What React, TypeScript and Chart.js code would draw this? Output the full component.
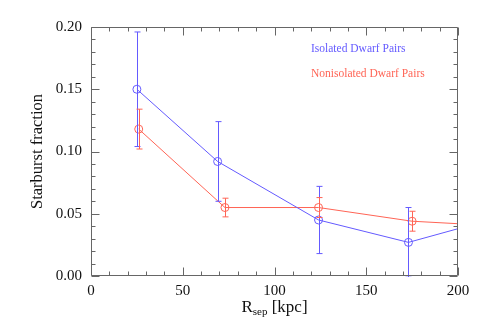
import React, { useEffect, useRef } from "react";
import { Chart, registerables } from "chart.js";

Chart.register(...registerables);

const isoX = [25, 69, 124, 173, 200];
const isoY = [0.15, 0.092, 0.045, 0.027, 0.038];
const isoErr = [0.046, 0.032, 0.027, 0.028, null];
const nonX = [26, 73, 124, 175, 200];
const nonY = [0.118, 0.055, 0.055, 0.044, 0.042];
const nonErr = [0.016, 0.0075, 0.008, 0.008, null];
const xTicks = [0, 50, 100, 150, 200];
const yTicks = [0, 0.05, 0.1, 0.15, 0.2];
const legendLabels = ["Isolated Dwarf Pairs", "Nonisolated Dwarf Pairs"];
const yTitle = "Starburst fraction";

const BLUE = "rgb(100,90,255)";
const RED = "rgb(255,100,85)";
const AXIS = "#666";
const SERIF = '"Liberation Serif", "DejaVu Serif", serif';

const decor = {
  id: "decor",
  afterDatasetsDraw(chart: any) {
    const { ctx, chartArea: a, scales } = chart;
    const xs = scales.x;
    const ys = scales.y;
    ctx.save();
    ctx.beginPath();
    ctx.rect(a.left, a.top - 1, a.right - a.left, a.bottom - a.top + 2);
    ctx.clip();
    const bars = [
      { xv: isoX, yv: isoY, ev: isoErr, c: BLUE },
      { xv: nonX, yv: nonY, ev: nonErr, c: RED },
    ];
    ctx.lineWidth = 1;
    for (const b of bars) {
      ctx.strokeStyle = b.c;
      b.xv.forEach((xv, i) => {
        const e = b.ev[i];
        if (e == null) return;
        const px = Math.round(xs.getPixelForValue(xv)) + 0.5;
        const top = ys.getPixelForValue(b.yv[i] + e);
        const bot = ys.getPixelForValue(b.yv[i] - e);
        ctx.beginPath();
        ctx.moveTo(px, top);
        ctx.lineTo(px, bot);
        ctx.moveTo(px - 3, top);
        ctx.lineTo(px + 3, top);
        ctx.moveTo(px - 3, bot);
        ctx.lineTo(px + 3, bot);
        ctx.stroke();
      });
    }
    ctx.restore();

    ctx.save();
    ctx.strokeStyle = AXIS;
    ctx.lineWidth = 1;
    const L = Math.round(a.left) + 0.5;
    const R = Math.round(a.right) - 0.5;
    const T = Math.round(a.top) + 0.5;
    const B = Math.round(a.bottom) - 0.5;
    ctx.beginPath();
    ctx.rect(L, T, R - L, B - T);
    ctx.stroke();
    ctx.beginPath();
    for (let v = 0; v <= 200; v += 10) {
      const px = Math.round(xs.getPixelForValue(v)) + 0.5;
      const len = v % 50 === 0 ? 8 : 4;
      ctx.moveTo(px, B);
      ctx.lineTo(px, B - len);
      ctx.moveTo(px, T);
      ctx.lineTo(px, T + len);
    }
    for (let k = 0; k <= 20; k++) {
      const v = k * 0.01;
      const py = Math.round(ys.getPixelForValue(v)) + 0.5;
      const len = k % 5 === 0 ? 8 : 4;
      ctx.moveTo(L, py);
      ctx.lineTo(L + len, py);
      ctx.moveTo(R, py);
      ctx.lineTo(R - len, py);
    }
    ctx.stroke();
    ctx.restore();

    ctx.save();
    ctx.font = `11.5px ${SERIF}`;
    ctx.textBaseline = "middle";
    ctx.textAlign = "left";
    ctx.fillStyle = BLUE;
    ctx.fillText(legendLabels[0], a.left + 220, a.top + 22);
    ctx.fillStyle = RED;
    ctx.fillText(legendLabels[1], a.left + 220, a.top + 47);
    ctx.restore();

    ctx.save();
    ctx.fillStyle = "#111";
    ctx.textBaseline = "alphabetic";
    const cx = (a.left + a.right) / 2;
    const baseY = a.bottom + 36;
    const f1 = `17px ${SERIF}`;
    const f2 = `11px ${SERIF}`;
    ctx.font = f1;
    const wR = ctx.measureText("R").width;
    const wRest = ctx.measureText(" [kpc]").width;
    ctx.font = f2;
    const wSub = ctx.measureText("sep").width;
    const total = wR + wSub + wRest;
    const x0 = cx - total / 2;
    ctx.font = f1;
    ctx.textAlign = "left";
    ctx.fillText("R", x0, baseY);
    ctx.font = f2;
    ctx.fillText("sep", x0 + wR, baseY + 3);
    ctx.font = f1;
    ctx.fillText(" [kpc]", x0 + wR + wSub, baseY);

    ctx.translate(a.left - 53, (a.top + a.bottom) / 2);
    ctx.rotate(-Math.PI / 2);
    ctx.textAlign = "center";
    ctx.textBaseline = "middle";
    ctx.font = `16.5px ${SERIF}`;
    ctx.fillText(yTitle, 0, 0);
    ctx.restore();
  },
};

export default function App() {
  const ref = useRef<HTMLCanvasElement | null>(null);
  useEffect(() => {
    let chart: any = null;
    let cancelled = false;
    const build = () => {
      if (cancelled || !ref.current) return;
      chart = new Chart(ref.current, {
        type: "line",
        data: {
          datasets: [
            {
              label: legendLabels[0],
              data: isoX.map((x, i) => ({ x, y: isoY[i] })),
              borderColor: BLUE,
              borderWidth: 1,
              pointStyle: "circle",
              pointRadius: isoX.map((_, i) => (isoErr[i] == null ? 0 : 4)),
              pointBorderColor: BLUE,
              pointBackgroundColor: "rgba(0,0,0,0)",
              pointBorderWidth: 1,
              fill: false,
              tension: 0,
            },
            {
              label: legendLabels[1],
              data: nonX.map((x, i) => ({ x, y: nonY[i] })),
              borderColor: RED,
              borderWidth: 1,
              pointStyle: "circle",
              pointRadius: nonX.map((_, i) => (nonErr[i] == null ? 0 : 4)),
              pointBorderColor: RED,
              pointBackgroundColor: "rgba(0,0,0,0)",
              pointBorderWidth: 1,
              fill: false,
              tension: 0,
            },
          ],
        },
        options: {
          animation: false,
          responsive: false,
          layout: { padding: { left: 0, top: 27, right: 27, bottom: 0 } },
          plugins: { legend: { display: false }, tooltip: { enabled: false } },
          scales: {
            x: {
              type: "linear",
              min: 0,
              max: 200,
              afterFit: (s: any) => {
                s.height = 56;
              },
              afterBuildTicks: (s: any) => {
                s.ticks = xTicks.map((v) => ({ value: v }));
              },
              grid: { display: false, drawTicks: false },
              border: { display: false },
              ticks: {
                padding: 6,
                color: "#111",
                font: { family: SERIF, size: 15 },
                callback: (v: any) => String(v),
              },
            },
            y: {
              type: "linear",
              min: 0,
              max: 0.2,
              afterFit: (s: any) => {
                s.width = 91;
              },
              afterBuildTicks: (s: any) => {
                s.ticks = yTicks.map((v) => ({ value: v }));
              },
              grid: { display: false, drawTicks: false },
              border: { display: false },
              ticks: {
                padding: 9,
                color: "#111",
                font: { family: SERIF, size: 15 },
                callback: (v: any) => Number(v).toFixed(2),
              },
            },
          },
        },
        plugins: [decor],
      } as any);
    };
    const fonts: any = (document as any).fonts;
    if (fonts && fonts.load) {
      Promise.all([
        fonts.load('15px "Liberation Serif"'),
        fonts.load('16px "Liberation Serif"'),
      ])
        .catch(() => null)
        .then(build);
    } else {
      build();
    }
    return () => {
      cancelled = true;
      if (chart) chart.destroy();
    };
  }, []);
  return (
    <div style={{ position: "absolute", left: 0, top: 0, width: 485, height: 332, background: "#fff" }}>
      <span style={{ position: "absolute", left: -9999, fontFamily: "'Liberation Serif'" }}>Rsep 0.05</span>
      <canvas ref={ref} width={485} height={332} style={{ display: "block" }} />
    </div>
  );
}
